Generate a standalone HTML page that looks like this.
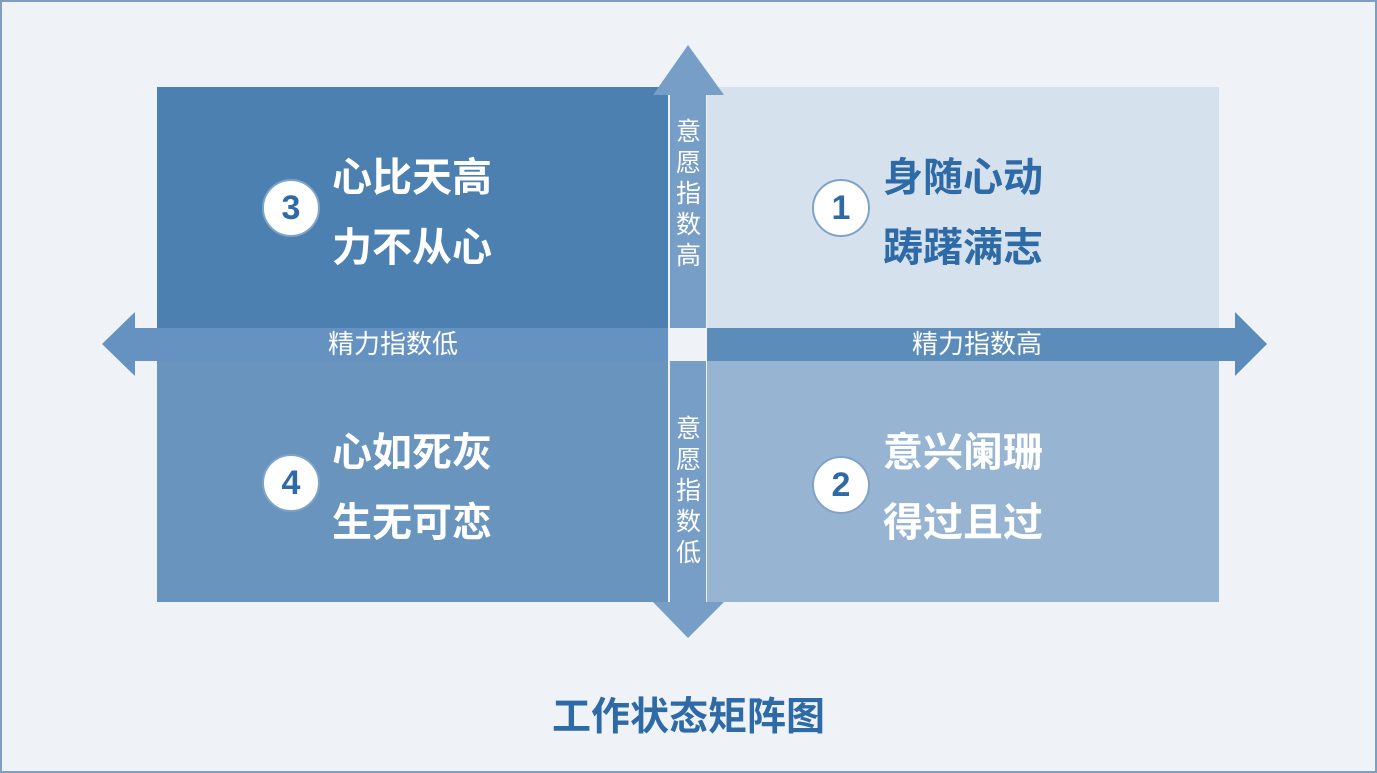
<!DOCTYPE html>
<html><head><meta charset="utf-8"><style>
*{margin:0;padding:0;box-sizing:border-box}
body{width:1377px;height:773px;background:#eff3f8;position:relative;overflow:hidden;font-family:"Liberation Sans","Noto Sans CJK SC",sans-serif}
.frame{position:absolute;left:0;top:0;width:1377px;height:773px;border:2px solid #7f9fc2}
.a{position:absolute}
.t{position:absolute;font-size:40px;font-weight:bold;line-height:40px;white-space:nowrap}
.c{position:absolute;width:58px;height:58px;border-radius:50%;background:#fff;border:2px solid #7fa3c8;color:#2e6aa6;font-size:34px;font-weight:bold;text-align:center;line-height:54px}
.v{position:absolute;left:670px;width:37px;color:#fff;font-size:25px;line-height:31px;text-align:center}
.h{position:absolute;color:#fff;font-size:26px;line-height:33px;text-align:center}
</style></head><body>
<div class="frame"></div>
<div class="a" style="left:157px;top:87px;width:511px;height:241px;background:#4c80b1"></div>
<div class="a" style="left:707px;top:87px;width:512px;height:241px;background:#d5e1ec"></div>
<div class="a" style="left:157px;top:361px;width:511px;height:241px;background:#6894be"></div>
<div class="a" style="left:707px;top:361px;width:512px;height:241px;background:#97b5d2"></div>
<svg class="a" style="left:0;top:0" width="1377" height="773">
<polygon points="670,95 653,95 688,45 724,95 706,95 706,328 670,328" fill="#779ec6"/>
<polygon points="670,361 706,361 706,602 724,602 688,638 653,602 670,602" fill="#779ec6"/>
<polygon points="668,328 135,328 135,312 102,344 135,376 135,361 668,361" fill="#6592c0"/>
<polygon points="707,328 1235,328 1235,312 1267,344 1235,376 1235,361 707,361" fill="#5b8cba"/>
</svg>
<div class="c" style="left:262px;top:179px">3</div>
<div class="c" style="left:812px;top:179px">1</div>
<div class="c" style="left:262px;top:454px">4</div>
<div class="c" style="left:812px;top:456px">2</div>
<div class="t" style="left:332px;top:158px;color:#fff">心比天高</div>
<div class="t" style="left:332px;top:228px;color:#fff">力不从心</div>
<div class="t" style="left:883px;top:158px;color:#2e6aa6">身随心动</div>
<div class="t" style="left:883px;top:228px;color:#2e6aa6">踌躇满志</div>
<div class="t" style="left:332px;top:433px;color:#fff">心如死灰</div>
<div class="t" style="left:332px;top:503px;color:#fff">生无可恋</div>
<div class="t" style="left:883px;top:433px;color:#fff">意兴阑珊</div>
<div class="t" style="left:883px;top:503px;color:#fff">得过且过</div>
<div class="v" style="top:117px">意<br>愿<br>指<br>数<br>高</div>
<div class="v" style="top:414px">意<br>愿<br>指<br>数<br>低</div>
<div class="h" style="left:135px;width:516px;top:328px">精力指数低</div>
<div class="h" style="left:707px;width:540px;top:328px">精力指数高</div>
<div class="t" style="left:0;width:1377px;text-align:center;top:698px;font-size:39px;color:#2e6aa6">工作状态矩阵图</div>
</body></html>
